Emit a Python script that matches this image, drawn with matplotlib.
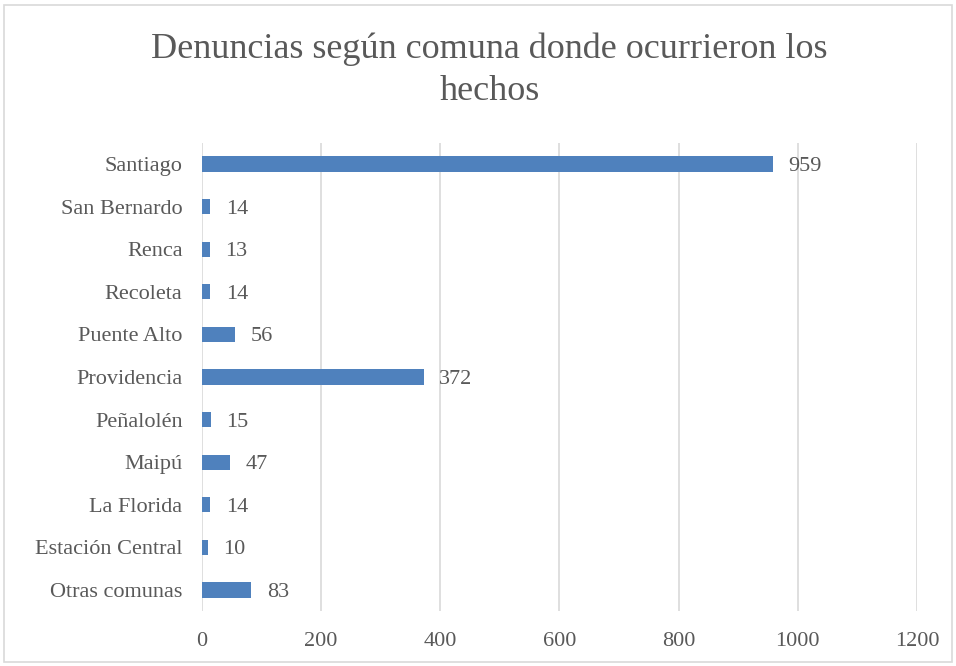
import matplotlib
matplotlib.use("Agg")
import matplotlib.pyplot as plt
from matplotlib.patches import Rectangle

categories = ["Santiago", "San Bernardo", "Renca", "Recoleta", "Puente Alto",
              "Providencia", "Peñalolén", "Maipú", "La Florida",
              "Estación Central", "Otras comunas"]
values = [959, 14, 13, 14, 56, 372, 15, 47, 14, 10, 83]
xticks = [0, 200, 400, 600, 800, 1000, 1200]
title = "Denuncias según comuna donde ocurrieron los\nhechos"

plt.rcParams['font.family'] = ['Liberation Serif', 'DejaVu Serif']
txt = "#595959"
bar_color = "#4F81BD"
grid_color = "#D9D9D9"

fig = plt.figure(figsize=(9.56, 6.66), dpi=100)
ax = fig.add_axes([0.2113, 0.0821, 0.9592 - 0.2113, 0.7857 - 0.0821])

ypos = list(range(len(categories)))
ax.barh(ypos, values, height=0.36, color=bar_color, zorder=3)
ax.set_ylim(len(categories) - 0.5, -0.5)
ax.set_xlim(0, 1200)
ax.set_yticks(ypos)
ax.set_yticklabels(categories, fontsize=16, color=txt, va='center_baseline')
ax.set_xticks(xticks)
ax.set_xticklabels([str(t) for t in xticks], fontsize=16, color=txt)
ax.tick_params(axis='both', length=0)
ax.tick_params(axis='y', pad=14)
ax.tick_params(axis='x', pad=15)
for s in ax.spines.values():
    s.set_visible(False)
ax.xaxis.grid(True, color=grid_color, linewidth=1.2, zorder=0)
ax.set_axisbelow(True)

for y, v in zip(ypos, values):
    ax.annotate(str(v), (v, y), xytext=(11, 0), textcoords='offset points',
                va='center_baseline', ha='left', fontsize=16, color=txt)

fig.text(0.512, 0.894, title, ha='center', va='center', fontsize=26,
         color=txt, linespacing=1.35)

fig.patches.append(Rectangle((0.004, 0.006), 0.992, 0.986, transform=fig.transFigure,
                             fill=False, edgecolor=grid_color, linewidth=1.2))

fig.savefig("out.png", dpi=100, facecolor="white")
